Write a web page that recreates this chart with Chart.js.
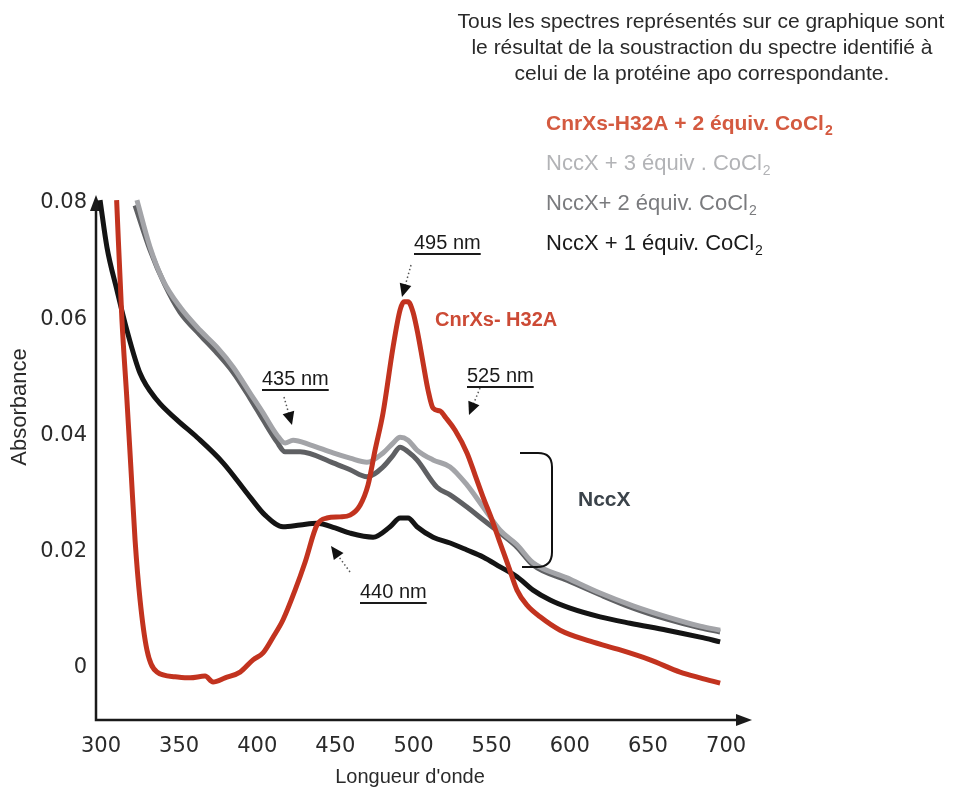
<!DOCTYPE html>
<html>
<head>
<meta charset="utf-8">
<script src="https://cdn.jsdelivr.net/npm/chart.js@4.4.1/dist/chart.umd.min.js"></script>
<style>
  html, body { margin: 0; padding: 0; background: #fff; }
</style>
</head>
<body>
<canvas id="spectra" width="962" height="791"></canvas>
<script>
// spectra: wavelength (nm) / absorbance
var redNm   = [310, 313.4, 316.6, 319.2, 321.8, 325, 329.4, 335.8, 347.4, 357, 366.6, 371.7, 379.4, 389, 397.3, 403.7, 410.1, 416.5, 424.2, 430.6, 438.2, 444.6, 453, 459.4, 465.8, 470.9, 475.4, 480.5, 486.9, 491.4, 493.9, 496.5, 499.7, 502.9, 506.1, 509.3, 512.5, 517, 520.8, 526.6, 534.2, 539.4, 544.5, 550.2, 555.4, 560.5, 566.2, 572.6, 581, 593.8, 613, 632.2, 651.4, 670.6, 683.4, 696.2];
var redAbs  = [0.0805, 0.0599, 0.0461, 0.0341, 0.0220, 0.0117, 0.0031, -0.0007, -0.0015, -0.0017, -0.0014, -0.0024, -0.0017, -0.0007, 0.0014, 0.0026, 0.0053, 0.0083, 0.0134, 0.0182, 0.0246, 0.0258, 0.0260, 0.0263, 0.0280, 0.0315, 0.0375, 0.0439, 0.0552, 0.0616, 0.0630, 0.0630, 0.0612, 0.0573, 0.0525, 0.0478, 0.0447, 0.0442, 0.0430, 0.0409, 0.0370, 0.0332, 0.0294, 0.0255, 0.0215, 0.0177, 0.0134, 0.0108, 0.0088, 0.0065, 0.0046, 0.0031, 0.0014, -0.0007, -0.0017, -0.0026];

var ncc3Nm  = [323, 331.4, 339.7, 350.6, 363.4, 374.2, 384.5, 395.4, 403.7, 412.6, 417.8, 422.9, 433.8, 448.5, 459.4, 470.2, 480.5, 486.9, 491.4, 496.5, 502.2, 512.5, 523.4, 534.2, 544.5, 555.4, 566.2, 576.5, 598.2, 619.4, 640.5, 662.2, 683.4, 696.2];
var ncc3Abs = [0.0805, 0.0724, 0.0667, 0.0621, 0.0581, 0.0552, 0.0518, 0.0473, 0.0439, 0.0401, 0.0387, 0.0392, 0.0384, 0.0370, 0.0361, 0.0354, 0.0370, 0.0387, 0.0397, 0.0392, 0.0375, 0.0358, 0.0346, 0.0315, 0.0277, 0.0237, 0.0212, 0.0181, 0.0155, 0.0129, 0.0107, 0.0088, 0.0072, 0.0065];

var ncc2Nm  = [321.8, 331.4, 340.9, 350.6, 363.4, 374.2, 384.5, 395.4, 403.7, 412.6, 417.8, 427.4, 448.5, 459.4, 470.2, 480.5, 486.9, 491.4, 496.5, 502.2, 515, 523.4, 534.2, 544.5, 555.4, 566.2, 576.5, 598.2, 619.4, 640.5, 662.2, 683.4, 696.2];
var ncc2Abs = [0.0796, 0.0719, 0.0659, 0.0612, 0.0573, 0.0542, 0.0509, 0.0464, 0.0427, 0.0389, 0.0372, 0.0372, 0.0353, 0.0341, 0.0329, 0.0346, 0.0366, 0.0380, 0.0372, 0.0358, 0.0311, 0.0298, 0.0277, 0.0255, 0.0232, 0.0208, 0.0177, 0.0151, 0.0126, 0.0103, 0.0084, 0.0069, 0.0062];

var ncc1Nm  = [299.4, 303.8, 310.2, 316.6, 325, 335.8, 348.6, 361.4, 378.1, 395.4, 405, 416.5, 427.4, 438.2, 449.8, 459.4, 474.1, 485, 491.4, 496.5, 502.2, 512.5, 523.4, 534.2, 544.5, 555.4, 566.2, 576.5, 587.4, 600.2, 619.4, 638.6, 662.2, 683.4, 696.2];
var ncc1Abs = [0.0805, 0.0724, 0.0650, 0.0581, 0.0507, 0.0461, 0.0427, 0.0397, 0.0353, 0.0294, 0.0263, 0.0243, 0.0246, 0.0249, 0.0241, 0.0232, 0.0225, 0.0243, 0.0258, 0.0258, 0.0243, 0.0225, 0.0215, 0.0203, 0.0191, 0.0174, 0.0157, 0.0134, 0.0117, 0.0103, 0.0088, 0.0077, 0.0065, 0.0053, 0.0045];

var xTicks = [300, 350, 400, 450, 500, 550, 600, 650, 700];
var yTicks = [0, 0.02, 0.04, 0.06, 0.08];

function pts(xs, ys) {
  var out = [];
  for (var i in xs) out.push({x: xs[i], y: ys[i]});
  return out;
}

var RED = '#c2331f', LIGHT = '#a3a4a8', MID = '#5f6063', BLACK = '#141414';

function dotArrow(ctx, x1, y1, x2, y2) {
  ctx.save();
  ctx.strokeStyle = '#555';
  ctx.lineWidth = 1.5;
  ctx.setLineDash([1.5, 2.5]);
  var a = Math.atan2(y2 - y1, x2 - x1);
  ctx.beginPath();
  ctx.moveTo(x1, y1);
  ctx.lineTo(x2 - 9 * Math.cos(a), y2 - 9 * Math.sin(a));
  ctx.stroke();
  ctx.setLineDash([]);
  ctx.fillStyle = '#111';
  ctx.beginPath();
  ctx.moveTo(x2, y2);
  ctx.lineTo(x2 - 13 * Math.cos(a) + 6 * Math.sin(a), y2 - 13 * Math.sin(a) - 6 * Math.cos(a));
  ctx.lineTo(x2 - 13 * Math.cos(a) - 6 * Math.sin(a), y2 - 13 * Math.sin(a) + 6 * Math.cos(a));
  ctx.closePath();
  ctx.fill();
  ctx.restore();
}

function underlined(ctx, txt, x, y) {
  ctx.font = '20px "Liberation Sans", Arial, sans-serif';
  ctx.fillStyle = '#1a1a1a';
  ctx.textAlign = 'left';
  ctx.textBaseline = 'alphabetic';
  ctx.fillText(txt, x, y);
  var w = ctx.measureText(txt).width;
  ctx.fillRect(x, y + 4, w, 2);
}

function chem(ctx, txt, x, y, color, bold) {
  var f = bold ? 'bold 21px ' : '22px ';
  ctx.font = f + '"Liberation Sans", Arial, sans-serif';
  ctx.fillStyle = color;
  ctx.textAlign = 'left';
  ctx.textBaseline = 'alphabetic';
  ctx.fillText(txt, x, y);
  var w = ctx.measureText(txt).width;
  ctx.font = (bold ? 'bold ' : '') + '14px "Liberation Sans", Arial, sans-serif';
  ctx.fillText('2', x + w + 1, y + 5);
}

var decor = {
  id: 'decor',
  beforeDatasetsDraw: function(chart) {
    var ctx = chart.ctx, a = chart.chartArea;
    ctx.save();
    ctx.strokeStyle = '#1a1a1a';
    ctx.fillStyle = '#1a1a1a';
    ctx.lineWidth = 2.5;
    ctx.beginPath();
    ctx.moveTo(a.left, a.top + 12);
    ctx.lineTo(a.left, a.bottom);
    ctx.lineTo(a.right - 12, a.bottom);
    ctx.stroke();
    ctx.beginPath();
    ctx.moveTo(a.left, a.top);
    ctx.lineTo(a.left - 6, a.top + 16);
    ctx.lineTo(a.left + 6, a.top + 16);
    ctx.closePath();
    ctx.fill();
    ctx.beginPath();
    ctx.moveTo(a.right, a.bottom);
    ctx.lineTo(a.right - 16, a.bottom - 6);
    ctx.lineTo(a.right - 16, a.bottom + 6);
    ctx.closePath();
    ctx.fill();
    ctx.restore();
  },
  afterDraw: function(chart) {
    var ctx = chart.ctx;
    ctx.save();
    // note at top right
    ctx.font = '21px "Liberation Sans", Arial, sans-serif';
    ctx.fillStyle = '#2a2a2a';
    ctx.textAlign = 'center';
    ctx.textBaseline = 'middle';
    ctx.fillText('Tous les spectres représentés sur ce graphique sont', 701, 22);
    ctx.fillText('le résultat de la soustraction du spectre identifié à', 702, 48);
    ctx.fillText('celui de la protéine apo correspondante.', 702, 74);

    chem(ctx, 'CnrXs-H32A + 2 équiv. CoCl', 546, 130, '#d45a40', true);
    chem(ctx, 'NccX + 3 équiv . CoCl', 546, 170, '#b2b3b6', false);
    chem(ctx, 'NccX+ 2 équiv. CoCl', 546, 210, '#7a7b7e', false);
    chem(ctx, 'NccX + 1 équiv. CoCl', 546, 250, '#1a1a1a', false);

    // peak labels
    underlined(ctx, '495 nm', 414, 249);
    underlined(ctx, '435 nm', 262, 385);
    underlined(ctx, '525 nm', 467, 382);
    underlined(ctx, '440 nm', 360, 598);
    dotArrow(ctx, 411, 265, 402, 297);
    dotArrow(ctx, 284, 397, 292, 425);
    dotArrow(ctx, 480, 388, 469, 415);
    dotArrow(ctx, 350, 572, 331, 546);

    ctx.font = 'bold 20px "Liberation Sans", Arial, sans-serif';
    ctx.fillStyle = '#cc4a35';
    ctx.textAlign = 'left';
    ctx.fillText('CnrXs- H32A', 435, 326);
    ctx.font = 'bold 21px "Liberation Sans", Arial, sans-serif';
    ctx.fillStyle = '#3b434a';
    ctx.fillText('NccX', 578, 506);

    // bracket grouping the NccX spectra
    ctx.strokeStyle = '#111';
    ctx.lineWidth = 2;
    ctx.beginPath();
    ctx.moveTo(520, 453);
    ctx.lineTo(538, 453);
    ctx.quadraticCurveTo(552, 453, 552, 467);
    ctx.lineTo(552, 552);
    ctx.quadraticCurveTo(552, 567, 537, 567);
    ctx.lineTo(522, 567);
    ctx.stroke();

    // axis titles
    ctx.fillStyle = '#2a2a2a';
    ctx.textAlign = 'center';
    ctx.textBaseline = 'middle';
    ctx.font = '20px "Liberation Sans", Arial, sans-serif';
    ctx.fillText("Longueur d'onde", 410, 777);
    ctx.font = '22px "Liberation Sans", Arial, sans-serif';
    ctx.translate(20, 407);
    ctx.rotate(-Math.PI / 2);
    ctx.fillText('Absorbance', 0, 0);
    ctx.restore();
  }
};

function line(label, data, color) {
  return {
    label: label,
    data: data,
    borderColor: color,
    backgroundColor: color,
    borderWidth: 5,
    pointRadius: 0,
    cubicInterpolationMode: 'monotone',
    fill: false
  };
}

new Chart(document.getElementById('spectra'), {
  type: 'line',
  data: {
    datasets: [
      line('CnrXs-H32A + 2 équiv. CoCl2', pts(redNm, redAbs), RED),
      line('NccX + 3 équiv . CoCl2', pts(ncc3Nm, ncc3Abs), LIGHT),
      line('NccX+ 2 équiv. CoCl2', pts(ncc2Nm, ncc2Abs), MID),
      line('NccX + 1 équiv. CoCl2', pts(ncc1Nm, ncc1Abs), BLACK)
    ]
  },
  options: {
    responsive: false,
    animation: false,
    layout: { padding: { top: 195, right: 210, left: 0, bottom: 0 } },
    plugins: { legend: { display: false }, tooltip: { enabled: false } },
    scales: {
      x: {
        type: 'linear',
        min: 296.8,
        max: 716.6,
        grid: { display: false, drawTicks: false },
        border: { display: false },
        afterBuildTicks: function(s) { s.ticks = xTicks.map(function(v) { return {value: v}; }); },
        afterFit: function(s) { s.height = 71; },
        ticks: {
          padding: 14,
          color: '#2a2a2a',
          font: { family: '"DejaVu Sans", sans-serif', size: 21 },
          callback: function(v) { return String(v); }
        }
      },
      y: {
        min: -0.00895,
        max: 0.08138,
        grid: { display: false, drawTicks: false },
        border: { display: false },
        afterBuildTicks: function(s) { s.ticks = yTicks.map(function(v) { return {value: v}; }); },
        afterFit: function(s) { s.width = 96; },
        ticks: {
          padding: 9,
          color: '#2a2a2a',
          font: { family: '"DejaVu Sans", sans-serif', size: 21 },
          callback: function(v) { return v === 0 ? '0' : v.toFixed(2); }
        }
      }
    }
  },
  plugins: [decor]
});
</script>
</body>
</html>
